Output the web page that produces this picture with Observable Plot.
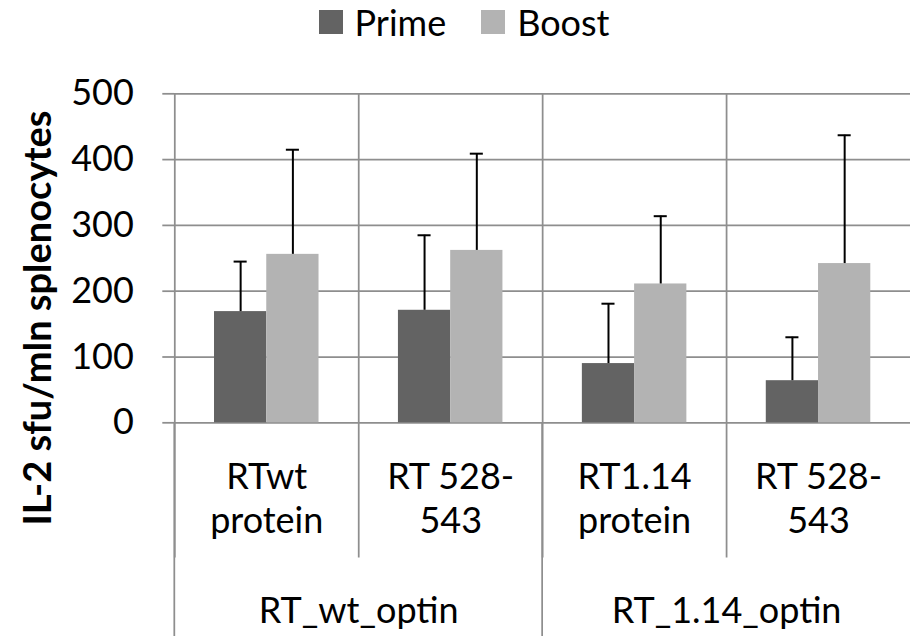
<!DOCTYPE html>
<html>
<head>
<meta charset="utf-8">
<script src="https://cdn.jsdelivr.net/npm/d3@7"></script>
<script src="https://cdn.jsdelivr.net/npm/@observablehq/plot@0.6"></script>
<style>
  html, body { margin: 0; padding: 0; background: #fff; }
  body { width: 910px; height: 636px; overflow: hidden; font-family: Lato, "Open Sans", sans-serif; }
  #legend { height: 45px; width: 910px; box-sizing: border-box; padding-left: 18px; padding-top: 0;
            display: flex; justify-content: center; align-items: flex-start; gap: 35px; }
  .item { display: flex; align-items: flex-start; gap: 12px; font-size: 36px; line-height: normal; color: #000; }
  .sw { width: 24px; height: 24px; display: inline-block; margin-top: 10px; }
  #chart svg { display: block; }
</style>
</head>
<body>
<div id="legend"></div>
<div id="chart"></div>
<script>
// ---- data ----
const categoryIds = ["wtProtein", "wtPeptide", "m114Protein", "m114Peptide"];
const categoryLabels = ["RTwt\nprotein", "RT 528-\n543", "RT1.14\nprotein", "RT 528-\n543"];
const groupLabels = ["RT_wt_optin", "RT_1.14_optin"];
const categoryGroup = [0, 0, 1, 1];
const seriesNames = ["Prime", "Boost"];
const seriesColors = ["#636363", "#b3b3b3"];
const primeValues = [169, 171, 90, 64];
const primeErrors = [76, 114, 91, 66];
const boostValues = [256, 262, 211, 242];
const boostErrors = [159, 147, 103, 195];
const yTicks = [0, 100, 200, 300, 400, 500];
const yTitle = "IL-2 sfu/mln splenocytes";

// ---- tables built from the arrays ----
const rows = [];
categoryIds.forEach((cat, i) => {
  rows.push({cat, series: seriesNames[0], value: primeValues[i], err: primeErrors[i]});
  rows.push({cat, series: seriesNames[1], value: boostValues[i], err: boostErrors[i]});
});
const catRows = categoryIds.map((cat, i) => ({cat, label: categoryLabels[i]}));
const groupRows = groupLabels.map((label, g) => ({
  label,
  firstCat: categoryIds[categoryGroup.indexOf(g)]
}));
const titleRows = [{cat: categoryIds[0], label: yTitle}];

// ---- legend ----
const legend = document.getElementById("legend");
seriesNames.forEach((name, i) => {
  const it = document.createElement("div");
  it.className = "item";
  const sw = document.createElement("span");
  sw.className = "sw";
  sw.style.background = seriesColors[i];
  const tx = document.createElement("span");
  tx.textContent = name;
  it.appendChild(sw); it.appendChild(tx);
  legend.appendChild(it);
});

// ---- chart ----
const W = 910, H = 591;
const grid = "#8e8e8e";
const chart = Plot.plot({
  width: W, height: H,
  marginLeft: 174.3, marginRight: 0, marginTop: 48.3, marginBottom: 213.7,
  style: {fontFamily: "Lato, 'Open Sans', sans-serif", fontSize: "36px", color: "#000", background: "#fff", overflow: "visible"},
  fx: {domain: categoryIds, padding: 0, axis: null, round: false},
  x: {domain: seriesNames, paddingInner: 0, paddingOuter: 0.76, axis: null, round: false},
  y: {domain: [0, 500], axis: null},
  color: {domain: seriesNames, range: seriesColors},
  marks: [
    Plot.ruleY(yTicks, {stroke: grid, strokeWidth: 1.75}),
    Plot.barY(rows, {fx: "cat", x: "series", y: "value", fill: "series"}),
    Plot.ruleX(rows, {fx: "cat", x: "series", y1: "value", y2: d => d.value + d.err, stroke: "#000", strokeWidth: 2}),
    Plot.tickY(rows, {fx: "cat", x: "series", y: d => d.value + d.err, stroke: "#000", strokeWidth: 2, insetLeft: 19.6, insetRight: 19.6}),
    Plot.axisY({ticks: yTicks, label: null, tickSize: 12, tickPadding: 29, stroke: grid, strokeWidth: 1.75, strokeOpacity: 1, tickFormat: d => String(d), fontSize: 36, fill: "#000"}),
    Plot.frame({anchor: "left", stroke: grid, strokeWidth: 1.75, insetBottom: -133.7}),
    Plot.text(catRows, {fx: "cat", text: "label", frameAnchor: "bottom", lineAnchor: "top", dy: 35, lineHeight: 1.222, fill: "#000"}),
    Plot.text(groupRows, {fx: "firstCat", text: "label", frameAnchor: "bottom-right", textAnchor: "middle", lineAnchor: "top", dy: 175.1, fill: "#000"}),
    Plot.text(titleRows, {fx: "cat", text: "label", frameAnchor: "left", textAnchor: "middle", rotate: -90, fontWeight: "bold", fontSize: 38, dx: -135.5, dy: 59.7, fill: "#000"})
  ]
});
document.getElementById("chart").appendChild(chart);

// long divider lines for group boundaries, placed with the library's fx and y scales
const fxScale = chart.scale("fx");
const yScale = chart.scale("y");
const svg = d3.select(chart);
groupRows.forEach(g => {
  const x = fxScale.apply(g.firstCat);
  svg.append("line")
    .attr("x1", x).attr("x2", x)
    .attr("y1", yScale.apply(0)).attr("y2", H)
    .attr("stroke", grid).attr("stroke-width", 1.75);
});
</script>
</body>
</html>
